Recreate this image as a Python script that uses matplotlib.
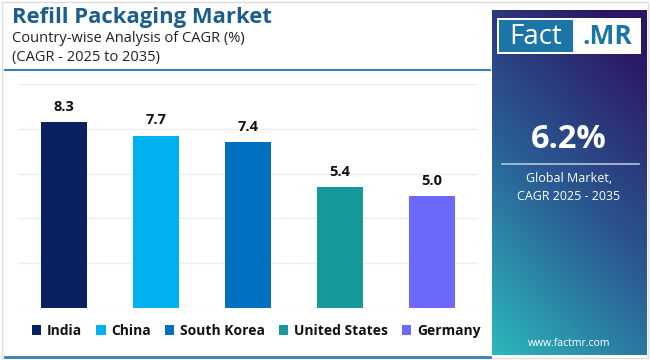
import numpy as np
import matplotlib.pyplot as plt
from matplotlib.patches import Rectangle

countries = ["India", "China", "South Korea", "United States", "Germany"]
cagr = [8.3, 7.7, 7.4, 5.4, 5.0]
colors = ["#0a2161", "#00b0ef", "#0070c0", "#16999a", "#6b68fb"]
yticks = [0, 2, 4, 6, 8, 10]

title = "Refill Packaging Market"
subtitle = "Country-wise Analysis of CAGR (%)\n(CAGR - 2025 to 2035)"
global_cagr = "6.2%"
global_label = "Global Market,\nCAGR 2025 - 2035"
site = "www.factmr.com"

plt.rcParams['font.family'] = ['Open Sans', 'DejaVu Sans']

W, H = 650, 360
fig = plt.figure(figsize=(6.5, 3.6), dpi=100)


def fx(px):
    return px / W


def fy(py):
    return 1 - py / H


# outer border
fig.patches.append(Rectangle((fx(2), fy(358)), fx(646), 356 / H, transform=fig.transFigure,
                             fill=False, edgecolor="#dddddd", linewidth=1))

# header
fig.text(fx(12), fy(17), title, fontsize=15.8, fontweight="bold", color="#1c5d8c", va="center")
fig.text(fx(12), fy(48), subtitle, fontsize=10.5, color="#222222", va="center", linespacing=1.35)
fig.add_artist(plt.Line2D([fx(5), fx(490)], [fy(70), fy(70)], color="#3a7fb2", linewidth=1.5))
fig.add_artist(plt.Line2D([fx(5), fx(490)], [fy(357), fy(357)], color="#3a7fb2", linewidth=2))

# bar chart
ax = fig.add_axes([fx(18), fy(308), fx(460), (308 - 84) / H])
x = np.arange(len(countries))
bars = ax.bar(x, cagr, width=0.5, color=colors, label=countries, zorder=3)
ax.bar_label(bars, labels=[f"{v:.1f}" for v in cagr], padding=6, fontsize=10.5,
             fontweight="bold", color="#111111")
ax.set_xlim(-0.5, len(countries) - 0.5)
ax.set_ylim(yticks[0], yticks[-1])
ax.set_yticks(yticks)
ax.grid(axis="y", color="#eeeeee", linewidth=1, zorder=0)
ax.tick_params(left=False, bottom=False, labelleft=False, labelbottom=False)
for s in ax.spines.values():
    s.set_visible(False)

leg = fig.legend(handles=bars.patches, labels=countries, loc="center",
                 bbox_to_anchor=(fx(256), fy(331)), ncol=5, frameon=False,
                 handlelength=0.7, handleheight=0.7, handletextpad=0.4,
                 columnspacing=1.0, prop={"weight": "bold", "size": 10})
for t in leg.get_texts():
    t.set_color("#111111")

# side panel with gradient
pl, pt, pw, ph = 492, 10, 155, 345
pax = fig.add_axes([fx(pl), fy(pt + ph), fx(pw), ph / H])
gy, gx = np.mgrid[0:1:200j, 0:1:100j]
t = np.clip(0.75 * gy + 0.35 * (1 - gx) - 0.1, 0, 1)
top = np.array([0x2c, 0x15, 0x64]) / 255
mid = np.array([0x2a, 0x5c, 0x94]) / 255
bot = np.array([0x2c, 0xb8, 0xbb]) / 255
t3 = t[..., None]
img = np.where(t3 < 0.5, top + (mid - top) * (t3 / 0.5), mid + (bot - mid) * ((t3 - 0.5) / 0.5))
pax.imshow(img, extent=[0, pw, ph, 0], aspect="auto")
pax.set_xlim(0, pw)
pax.set_ylim(ph, 0)
pax.axis("off")

# logo
pax.add_patch(Rectangle((5, 8), 144, 36, facecolor="white", edgecolor="none"))
pax.add_patch(Rectangle((7, 10), 74, 32, facecolor="#1b75a6", edgecolor="none"))
pax.text(44, 27, "Fact", color="white", fontsize=20, ha="center", va="center")
pax.text(115, 27, ".MR", color="#1b75a6", fontsize=19, fontweight="bold", ha="center", va="center")

pax.text(77, 130, global_cagr, color="white", fontsize=23.5, fontweight="bold", ha="center", va="center")
pax.plot([10, 147], [154, 154], color="#b8c4e0", linewidth=1.2)
pax.text(77, 177, global_label, color="white", fontsize=9, ha="center", va="center", linespacing=1.5)
pax.text(77, 333, site, color="white", fontsize=7.5, ha="center", va="center")

fig.savefig("out.png", dpi=100)
